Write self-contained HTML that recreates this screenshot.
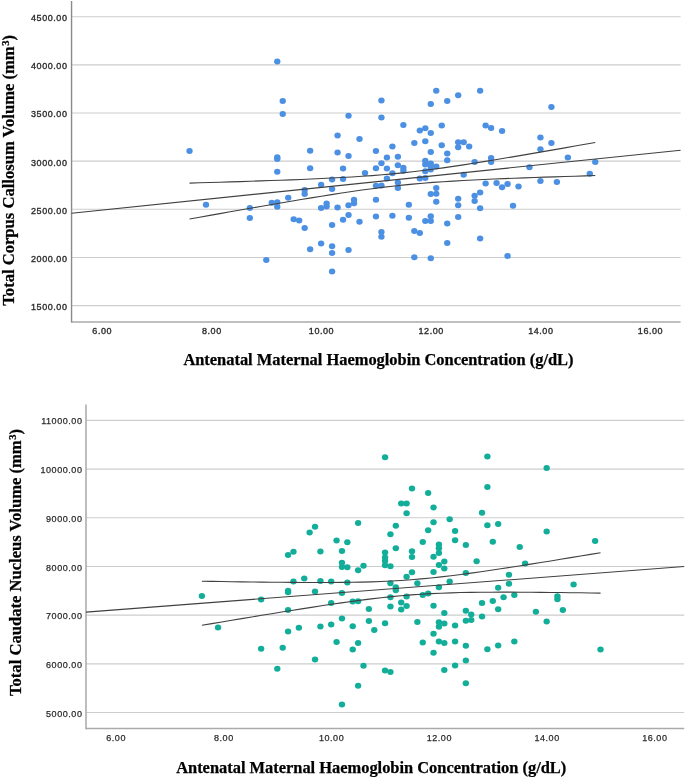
<!DOCTYPE html>
<html><head><meta charset="utf-8"><title>Scatter plots</title><style>html,body{margin:0;padding:0;background:#fff;}body{width:685px;height:777px;overflow:hidden;position:relative;}svg text{white-space:pre}</style></head><body>
<svg width="685" height="777" viewBox="0 0 685 777" style="position:absolute;left:0;top:0;display:block;will-change:transform">
<rect width="685" height="777" fill="#fff"/>
<line x1="71.55" y1="16.7" x2="680.6" y2="16.7" stroke="#cdcdcd" stroke-width="1.1"/>
<line x1="71.55" y1="64.86" x2="680.6" y2="64.86" stroke="#cdcdcd" stroke-width="1.1"/>
<line x1="71.55" y1="113.01" x2="680.6" y2="113.01" stroke="#cdcdcd" stroke-width="1.1"/>
<line x1="71.55" y1="161.16" x2="680.6" y2="161.16" stroke="#cdcdcd" stroke-width="1.1"/>
<line x1="71.55" y1="209.32" x2="680.6" y2="209.32" stroke="#cdcdcd" stroke-width="1.1"/>
<line x1="71.55" y1="257.48" x2="680.6" y2="257.48" stroke="#cdcdcd" stroke-width="1.1"/>
<line x1="71.55" y1="305.63" x2="680.6" y2="305.63" stroke="#cdcdcd" stroke-width="1.1"/>
<path d="M71.55 321.9 H680.6" fill="none" stroke="#aaaaaa" stroke-width="1.5"/>
<path d="M71.55 1 V322.6" fill="none" stroke="#8a8a8a" stroke-width="1.4"/>
<g fill="#4c90e3">
<ellipse cx="189.53" cy="150.9" rx="3.2" ry="3"/>
<ellipse cx="205.98" cy="204.8" rx="3.2" ry="3"/>
<ellipse cx="249.84" cy="208" rx="3.2" ry="3"/>
<ellipse cx="249.84" cy="217.9" rx="3.2" ry="3"/>
<ellipse cx="277.26" cy="61.4" rx="3.2" ry="3"/>
<ellipse cx="282.74" cy="100.9" rx="3.2" ry="3"/>
<ellipse cx="282.74" cy="114.1" rx="3.2" ry="3"/>
<ellipse cx="348.53" cy="115.7" rx="3.2" ry="3"/>
<ellipse cx="337.57" cy="135.4" rx="3.2" ry="3"/>
<ellipse cx="359.5" cy="139.1" rx="3.2" ry="3"/>
<ellipse cx="310.15" cy="150.7" rx="3.2" ry="3"/>
<ellipse cx="337.57" cy="152.4" rx="3.2" ry="3"/>
<ellipse cx="348.53" cy="155.9" rx="3.2" ry="3"/>
<ellipse cx="375.95" cy="151" rx="3.2" ry="3"/>
<ellipse cx="277.26" cy="171.7" rx="3.2" ry="3"/>
<ellipse cx="310.15" cy="168.2" rx="3.2" ry="3"/>
<ellipse cx="343.05" cy="168.5" rx="3.2" ry="3"/>
<ellipse cx="364.98" cy="173.1" rx="3.2" ry="3"/>
<ellipse cx="375.95" cy="168.2" rx="3.2" ry="3"/>
<ellipse cx="332.09" cy="179.6" rx="3.2" ry="3"/>
<ellipse cx="343.05" cy="179.1" rx="3.2" ry="3"/>
<ellipse cx="321.12" cy="184.7" rx="3.2" ry="3"/>
<ellipse cx="332.09" cy="188.9" rx="3.2" ry="3"/>
<ellipse cx="304.67" cy="190.1" rx="3.2" ry="3"/>
<ellipse cx="304.67" cy="194.1" rx="3.2" ry="3"/>
<ellipse cx="288.22" cy="197.8" rx="3.2" ry="3"/>
<ellipse cx="271.77" cy="202.7" rx="3.2" ry="3"/>
<ellipse cx="277.26" cy="202.2" rx="3.2" ry="3"/>
<ellipse cx="277.26" cy="206.7" rx="3.2" ry="3"/>
<ellipse cx="375.95" cy="185.7" rx="3.2" ry="3"/>
<ellipse cx="326.6" cy="203.6" rx="3.2" ry="3"/>
<ellipse cx="326.6" cy="206.6" rx="3.2" ry="3"/>
<ellipse cx="321.12" cy="208.1" rx="3.2" ry="3"/>
<ellipse cx="337.57" cy="207.4" rx="3.2" ry="3"/>
<ellipse cx="348.53" cy="205.3" rx="3.2" ry="3"/>
<ellipse cx="354.02" cy="199.7" rx="3.2" ry="3"/>
<ellipse cx="354.02" cy="203.2" rx="3.2" ry="3"/>
<ellipse cx="375.95" cy="199.7" rx="3.2" ry="3"/>
<ellipse cx="293.7" cy="219.3" rx="3.2" ry="3"/>
<ellipse cx="299.19" cy="220.6" rx="3.2" ry="3"/>
<ellipse cx="304.67" cy="228.1" rx="3.2" ry="3"/>
<ellipse cx="332.09" cy="225.1" rx="3.2" ry="3"/>
<ellipse cx="343.05" cy="219.7" rx="3.2" ry="3"/>
<ellipse cx="348.53" cy="215.1" rx="3.2" ry="3"/>
<ellipse cx="359.5" cy="221.8" rx="3.2" ry="3"/>
<ellipse cx="375.95" cy="216.4" rx="3.2" ry="3"/>
<ellipse cx="321.12" cy="243.6" rx="3.2" ry="3"/>
<ellipse cx="310.15" cy="249.2" rx="3.2" ry="3"/>
<ellipse cx="332.09" cy="246.3" rx="3.2" ry="3"/>
<ellipse cx="332.09" cy="252.9" rx="3.2" ry="3"/>
<ellipse cx="348.53" cy="249.9" rx="3.2" ry="3"/>
<ellipse cx="266.29" cy="259.9" rx="3.2" ry="3"/>
<ellipse cx="332.09" cy="271.5" rx="3.2" ry="3"/>
<ellipse cx="381.43" cy="100.6" rx="3.2" ry="3"/>
<ellipse cx="381.43" cy="117.6" rx="3.2" ry="3"/>
<ellipse cx="436.26" cy="90.8" rx="3.2" ry="3"/>
<ellipse cx="430.78" cy="103.9" rx="3.2" ry="3"/>
<ellipse cx="447.23" cy="101" rx="3.2" ry="3"/>
<ellipse cx="458.19" cy="95.2" rx="3.2" ry="3"/>
<ellipse cx="480.13" cy="90.8" rx="3.2" ry="3"/>
<ellipse cx="403.37" cy="125" rx="3.2" ry="3"/>
<ellipse cx="419.81" cy="130.4" rx="3.2" ry="3"/>
<ellipse cx="425.3" cy="128.3" rx="3.2" ry="3"/>
<ellipse cx="430.78" cy="132.9" rx="3.2" ry="3"/>
<ellipse cx="441.75" cy="125.5" rx="3.2" ry="3"/>
<ellipse cx="414.33" cy="143.1" rx="3.2" ry="3"/>
<ellipse cx="392.4" cy="146.6" rx="3.2" ry="3"/>
<ellipse cx="386.92" cy="157.6" rx="3.2" ry="3"/>
<ellipse cx="397.88" cy="156.7" rx="3.2" ry="3"/>
<ellipse cx="381.43" cy="163.3" rx="3.2" ry="3"/>
<ellipse cx="386.92" cy="168.5" rx="3.2" ry="3"/>
<ellipse cx="397.88" cy="165.3" rx="3.2" ry="3"/>
<ellipse cx="403.37" cy="167.7" rx="3.2" ry="3"/>
<ellipse cx="403.37" cy="170.7" rx="3.2" ry="3"/>
<ellipse cx="392.4" cy="173.2" rx="3.2" ry="3"/>
<ellipse cx="386.92" cy="178.6" rx="3.2" ry="3"/>
<ellipse cx="425.3" cy="141.2" rx="3.2" ry="3"/>
<ellipse cx="441.75" cy="145.3" rx="3.2" ry="3"/>
<ellipse cx="430.78" cy="151.9" rx="3.2" ry="3"/>
<ellipse cx="447.23" cy="153.6" rx="3.2" ry="3"/>
<ellipse cx="447.23" cy="160.2" rx="3.2" ry="3"/>
<ellipse cx="458.19" cy="142.3" rx="3.2" ry="3"/>
<ellipse cx="463.68" cy="142.3" rx="3.2" ry="3"/>
<ellipse cx="458.19" cy="147.3" rx="3.2" ry="3"/>
<ellipse cx="469.16" cy="146.4" rx="3.2" ry="3"/>
<ellipse cx="474.64" cy="162" rx="3.2" ry="3"/>
<ellipse cx="463.68" cy="174.7" rx="3.2" ry="3"/>
<ellipse cx="425.3" cy="160.8" rx="3.2" ry="3"/>
<ellipse cx="425.3" cy="164.6" rx="3.2" ry="3"/>
<ellipse cx="430.78" cy="163.4" rx="3.2" ry="3"/>
<ellipse cx="430.78" cy="166.4" rx="3.2" ry="3"/>
<ellipse cx="436.26" cy="166.4" rx="3.2" ry="3"/>
<ellipse cx="425.3" cy="171.3" rx="3.2" ry="3"/>
<ellipse cx="430.78" cy="169.6" rx="3.2" ry="3"/>
<ellipse cx="419.81" cy="178.6" rx="3.2" ry="3"/>
<ellipse cx="425.3" cy="178" rx="3.2" ry="3"/>
<ellipse cx="381.43" cy="185.5" rx="3.2" ry="3"/>
<ellipse cx="397.88" cy="182.4" rx="3.2" ry="3"/>
<ellipse cx="397.88" cy="188.1" rx="3.2" ry="3"/>
<ellipse cx="408.85" cy="204.8" rx="3.2" ry="3"/>
<ellipse cx="392.4" cy="215.7" rx="3.2" ry="3"/>
<ellipse cx="408.85" cy="217.7" rx="3.2" ry="3"/>
<ellipse cx="436.26" cy="188.1" rx="3.2" ry="3"/>
<ellipse cx="430.78" cy="194.1" rx="3.2" ry="3"/>
<ellipse cx="436.26" cy="193.8" rx="3.2" ry="3"/>
<ellipse cx="436.26" cy="201.7" rx="3.2" ry="3"/>
<ellipse cx="458.19" cy="198.8" rx="3.2" ry="3"/>
<ellipse cx="458.19" cy="205.2" rx="3.2" ry="3"/>
<ellipse cx="474.64" cy="195.8" rx="3.2" ry="3"/>
<ellipse cx="474.64" cy="201.1" rx="3.2" ry="3"/>
<ellipse cx="480.13" cy="192.5" rx="3.2" ry="3"/>
<ellipse cx="480.13" cy="208.3" rx="3.2" ry="3"/>
<ellipse cx="430.78" cy="216.2" rx="3.2" ry="3"/>
<ellipse cx="425.3" cy="221" rx="3.2" ry="3"/>
<ellipse cx="430.78" cy="221" rx="3.2" ry="3"/>
<ellipse cx="447.23" cy="223.6" rx="3.2" ry="3"/>
<ellipse cx="458.19" cy="216.9" rx="3.2" ry="3"/>
<ellipse cx="381.43" cy="231.9" rx="3.2" ry="3"/>
<ellipse cx="381.43" cy="236.8" rx="3.2" ry="3"/>
<ellipse cx="414.33" cy="230.9" rx="3.2" ry="3"/>
<ellipse cx="419.81" cy="233.1" rx="3.2" ry="3"/>
<ellipse cx="447.23" cy="243.1" rx="3.2" ry="3"/>
<ellipse cx="480.13" cy="238.4" rx="3.2" ry="3"/>
<ellipse cx="414.33" cy="257.3" rx="3.2" ry="3"/>
<ellipse cx="430.78" cy="258.2" rx="3.2" ry="3"/>
<ellipse cx="551.41" cy="106.9" rx="3.2" ry="3"/>
<ellipse cx="485.61" cy="125.5" rx="3.2" ry="3"/>
<ellipse cx="491.09" cy="128.1" rx="3.2" ry="3"/>
<ellipse cx="502.06" cy="131.1" rx="3.2" ry="3"/>
<ellipse cx="540.44" cy="137.6" rx="3.2" ry="3"/>
<ellipse cx="491.09" cy="157.9" rx="3.2" ry="3"/>
<ellipse cx="491.09" cy="162" rx="3.2" ry="3"/>
<ellipse cx="529.47" cy="167.2" rx="3.2" ry="3"/>
<ellipse cx="551.41" cy="143.1" rx="3.2" ry="3"/>
<ellipse cx="540.44" cy="149.2" rx="3.2" ry="3"/>
<ellipse cx="567.86" cy="157.4" rx="3.2" ry="3"/>
<ellipse cx="595.27" cy="161.9" rx="3.2" ry="3"/>
<ellipse cx="589.79" cy="173.7" rx="3.2" ry="3"/>
<ellipse cx="540.44" cy="181.1" rx="3.2" ry="3"/>
<ellipse cx="556.89" cy="182" rx="3.2" ry="3"/>
<ellipse cx="485.61" cy="183.4" rx="3.2" ry="3"/>
<ellipse cx="496.58" cy="183.1" rx="3.2" ry="3"/>
<ellipse cx="502.06" cy="187.3" rx="3.2" ry="3"/>
<ellipse cx="507.54" cy="184.1" rx="3.2" ry="3"/>
<ellipse cx="518.51" cy="186.6" rx="3.2" ry="3"/>
<ellipse cx="513.02" cy="205.7" rx="3.2" ry="3"/>
<ellipse cx="507.54" cy="255.9" rx="3.2" ry="3"/>
<ellipse cx="277.26" cy="157.3" rx="3.2" ry="3"/>
<ellipse cx="277.26" cy="159.1" rx="3.2" ry="3"/>
</g>
<g fill="none" stroke="#404040" stroke-width="1.1">
<path d="M71.55,213.27 L680.6,150.18"/>
<path d="M189.53,183.11 L199.67,182.82 L209.82,182.52 L219.96,182.21 L230.1,181.9 L240.25,181.58 L250.39,181.25 L260.53,180.92 L270.68,180.57 L280.82,180.21 L290.96,179.83 L301.11,179.43 L311.25,179.01 L321.39,178.55 L331.54,178.07 L341.68,177.54 L351.82,176.95 L361.97,176.31 L372.11,175.59 L382.26,174.79 L392.4,173.88 L402.54,172.88 L412.69,171.76 L422.83,170.55 L432.97,169.24 L443.12,167.84 L453.26,166.38 L463.4,164.85 L473.55,163.27 L483.69,161.65 L493.83,159.99 L503.98,158.31 L514.12,156.6 L524.27,154.88 L534.41,153.14 L544.55,151.38 L554.7,149.61 L564.84,147.84 L574.98,146.05 L585.13,144.26 L595.27,142.47"/>
<path d="M189.53,218.99 L199.67,217.19 L209.82,215.38 L219.96,213.59 L230.1,211.8 L240.25,210.01 L250.39,208.24 L260.53,206.47 L270.68,204.72 L280.82,202.98 L290.96,201.26 L301.11,199.56 L311.25,197.88 L321.39,196.23 L331.54,194.61 L341.68,193.04 L351.82,191.52 L361.97,190.06 L372.11,188.68 L382.26,187.38 L392.4,186.19 L402.54,185.09 L412.69,184.1 L422.83,183.21 L432.97,182.42 L443.12,181.72 L453.26,181.08 L463.4,180.51 L473.55,179.99 L483.69,179.5 L493.83,179.06 L503.98,178.64 L514.12,178.24 L524.27,177.87 L534.41,177.51 L544.55,177.16 L554.7,176.83 L564.84,176.5 L574.98,176.18 L585.13,175.87 L595.27,175.57"/>
</g>
<g style="font-family:&quot;Liberation Sans&quot;,sans-serif;font-size:9px;letter-spacing:0.56px;stroke:#2b2b2b;stroke-width:0.35px" fill="#2b2b2b" text-anchor="end">
<text x="67.5" y="18.1" dominant-baseline="central">4500.00</text>
<text x="67.5" y="66.26" dominant-baseline="central">4000.00</text>
<text x="67.5" y="114.41" dominant-baseline="central">3500.00</text>
<text x="67.5" y="162.56" dominant-baseline="central">3000.00</text>
<text x="67.5" y="210.72" dominant-baseline="central">2500.00</text>
<text x="67.5" y="258.88" dominant-baseline="central">2000.00</text>
<text x="67.5" y="307.03" dominant-baseline="central">1500.00</text>
</g>
<g style="font-family:&quot;Liberation Sans&quot;,sans-serif;font-size:9px;letter-spacing:0.56px;stroke:#2b2b2b;stroke-width:0.35px" fill="#2b2b2b" text-anchor="middle">
<text x="102.2" y="330.7" dominant-baseline="central">6.00</text>
<text x="211.86" y="330.7" dominant-baseline="central">8.00</text>
<text x="321.52" y="330.7" dominant-baseline="central">10.00</text>
<text x="431.18" y="330.7" dominant-baseline="central">12.00</text>
<text x="540.84" y="330.7" dominant-baseline="central">14.00</text>
<text x="650.5" y="330.7" dominant-baseline="central">16.00</text>
</g>
<text x="183.4" y="365.1" style="font-family:&quot;Liberation Serif&quot;,serif;font-weight:bold;font-size:16.42px;stroke:#000;stroke-width:0.25px" fill="#000">Antenatal Maternal Haemoglobin Concentration (g/dL)</text>
<text transform="translate(13.6,305.7) rotate(-90)" style="font-family:&quot;Liberation Serif&quot;,serif;font-weight:bold;font-size:16.6px;stroke:#000;stroke-width:0.25px" fill="#000">Total Corpus Callosum Volume (mm<tspan font-size="10.5" dy="-4.8" dx="0.6">3</tspan><tspan dy="4.8">)</tspan></text>
<line x1="86" y1="420.4" x2="684.2" y2="420.4" stroke="#cdcdcd" stroke-width="1.1"/>
<line x1="86" y1="469.09" x2="684.2" y2="469.09" stroke="#cdcdcd" stroke-width="1.1"/>
<line x1="86" y1="517.78" x2="684.2" y2="517.78" stroke="#cdcdcd" stroke-width="1.1"/>
<line x1="86" y1="566.47" x2="684.2" y2="566.47" stroke="#cdcdcd" stroke-width="1.1"/>
<line x1="86" y1="615.16" x2="684.2" y2="615.16" stroke="#cdcdcd" stroke-width="1.1"/>
<line x1="86" y1="663.85" x2="684.2" y2="663.85" stroke="#cdcdcd" stroke-width="1.1"/>
<line x1="86" y1="712.54" x2="684.2" y2="712.54" stroke="#cdcdcd" stroke-width="1.1"/>
<path d="M86 728.5 H684.2" fill="none" stroke="#aaaaaa" stroke-width="1.5"/>
<path d="M86 404.4 V729.2" fill="none" stroke="#a2a2a2" stroke-width="1.4"/>
<g fill="#13ae9a">
<ellipse cx="201.89" cy="596.1" rx="3.2" ry="3"/>
<ellipse cx="261.15" cy="599.4" rx="3.2" ry="3"/>
<ellipse cx="218.05" cy="627.5" rx="3.2" ry="3"/>
<ellipse cx="261.15" cy="648.7" rx="3.2" ry="3"/>
<ellipse cx="315.02" cy="526.7" rx="3.2" ry="3"/>
<ellipse cx="358.12" cy="522.9" rx="3.2" ry="3"/>
<ellipse cx="309.63" cy="532.5" rx="3.2" ry="3"/>
<ellipse cx="336.57" cy="540.4" rx="3.2" ry="3"/>
<ellipse cx="347.34" cy="542.2" rx="3.2" ry="3"/>
<ellipse cx="288.08" cy="555" rx="3.2" ry="3"/>
<ellipse cx="293.47" cy="551.8" rx="3.2" ry="3"/>
<ellipse cx="320.41" cy="551.4" rx="3.2" ry="3"/>
<ellipse cx="341.95" cy="551.1" rx="3.2" ry="3"/>
<ellipse cx="341.95" cy="562.7" rx="3.2" ry="3"/>
<ellipse cx="341.95" cy="567" rx="3.2" ry="3"/>
<ellipse cx="347.34" cy="567.2" rx="3.2" ry="3"/>
<ellipse cx="358.12" cy="570.2" rx="3.2" ry="3"/>
<ellipse cx="363.5" cy="565.8" rx="3.2" ry="3"/>
<ellipse cx="304.25" cy="578.4" rx="3.2" ry="3"/>
<ellipse cx="293.47" cy="581.6" rx="3.2" ry="3"/>
<ellipse cx="320.41" cy="581" rx="3.2" ry="3"/>
<ellipse cx="331.18" cy="581.6" rx="3.2" ry="3"/>
<ellipse cx="347.34" cy="582.4" rx="3.2" ry="3"/>
<ellipse cx="315.02" cy="591.6" rx="3.2" ry="3"/>
<ellipse cx="341.95" cy="593" rx="3.2" ry="3"/>
<ellipse cx="331.18" cy="603" rx="3.2" ry="3"/>
<ellipse cx="352.73" cy="601.4" rx="3.2" ry="3"/>
<ellipse cx="358.12" cy="601.2" rx="3.2" ry="3"/>
<ellipse cx="368.89" cy="609.1" rx="3.2" ry="3"/>
<ellipse cx="288.08" cy="610" rx="3.2" ry="3"/>
<ellipse cx="341.95" cy="618.4" rx="3.2" ry="3"/>
<ellipse cx="331.18" cy="624.5" rx="3.2" ry="3"/>
<ellipse cx="320.41" cy="626.6" rx="3.2" ry="3"/>
<ellipse cx="298.86" cy="627.7" rx="3.2" ry="3"/>
<ellipse cx="288.08" cy="631.5" rx="3.2" ry="3"/>
<ellipse cx="352.73" cy="626.3" rx="3.2" ry="3"/>
<ellipse cx="368.89" cy="621" rx="3.2" ry="3"/>
<ellipse cx="374.28" cy="630.1" rx="3.2" ry="3"/>
<ellipse cx="336.57" cy="642" rx="3.2" ry="3"/>
<ellipse cx="358.12" cy="642.9" rx="3.2" ry="3"/>
<ellipse cx="352.73" cy="649.4" rx="3.2" ry="3"/>
<ellipse cx="282.7" cy="647.7" rx="3.2" ry="3"/>
<ellipse cx="315.02" cy="659.6" rx="3.2" ry="3"/>
<ellipse cx="277.31" cy="668.7" rx="3.2" ry="3"/>
<ellipse cx="363.5" cy="665.7" rx="3.2" ry="3"/>
<ellipse cx="358.12" cy="685.8" rx="3.2" ry="3"/>
<ellipse cx="341.95" cy="704.6" rx="3.2" ry="3"/>
<ellipse cx="385.05" cy="457.2" rx="3.2" ry="3"/>
<ellipse cx="411.98" cy="488.5" rx="3.2" ry="3"/>
<ellipse cx="428.15" cy="492.9" rx="3.2" ry="3"/>
<ellipse cx="401.21" cy="503.6" rx="3.2" ry="3"/>
<ellipse cx="406.6" cy="503.6" rx="3.2" ry="3"/>
<ellipse cx="406.6" cy="513.2" rx="3.2" ry="3"/>
<ellipse cx="433.53" cy="507.4" rx="3.2" ry="3"/>
<ellipse cx="449.69" cy="519.2" rx="3.2" ry="3"/>
<ellipse cx="395.82" cy="525.8" rx="3.2" ry="3"/>
<ellipse cx="390.44" cy="534.3" rx="3.2" ry="3"/>
<ellipse cx="433.53" cy="522.3" rx="3.2" ry="3"/>
<ellipse cx="428.15" cy="530.2" rx="3.2" ry="3"/>
<ellipse cx="455.08" cy="531.1" rx="3.2" ry="3"/>
<ellipse cx="482.02" cy="512.7" rx="3.2" ry="3"/>
<ellipse cx="422.76" cy="542.1" rx="3.2" ry="3"/>
<ellipse cx="395.82" cy="548.2" rx="3.2" ry="3"/>
<ellipse cx="385.05" cy="552.6" rx="3.2" ry="3"/>
<ellipse cx="385.05" cy="557.4" rx="3.2" ry="3"/>
<ellipse cx="385.05" cy="560.9" rx="3.2" ry="3"/>
<ellipse cx="385.05" cy="565.3" rx="3.2" ry="3"/>
<ellipse cx="390.44" cy="566.2" rx="3.2" ry="3"/>
<ellipse cx="411.98" cy="551.3" rx="3.2" ry="3"/>
<ellipse cx="411.98" cy="557" rx="3.2" ry="3"/>
<ellipse cx="411.98" cy="572.3" rx="3.2" ry="3"/>
<ellipse cx="406.6" cy="576.7" rx="3.2" ry="3"/>
<ellipse cx="390.44" cy="583.2" rx="3.2" ry="3"/>
<ellipse cx="417.37" cy="583.2" rx="3.2" ry="3"/>
<ellipse cx="455.08" cy="540.2" rx="3.2" ry="3"/>
<ellipse cx="465.85" cy="545.1" rx="3.2" ry="3"/>
<ellipse cx="438.92" cy="544.4" rx="3.2" ry="3"/>
<ellipse cx="438.92" cy="548.2" rx="3.2" ry="3"/>
<ellipse cx="438.92" cy="553" rx="3.2" ry="3"/>
<ellipse cx="433.53" cy="556.7" rx="3.2" ry="3"/>
<ellipse cx="444.31" cy="561.6" rx="3.2" ry="3"/>
<ellipse cx="438.92" cy="565.1" rx="3.2" ry="3"/>
<ellipse cx="444.31" cy="568.4" rx="3.2" ry="3"/>
<ellipse cx="433.53" cy="571.9" rx="3.2" ry="3"/>
<ellipse cx="465.85" cy="573" rx="3.2" ry="3"/>
<ellipse cx="476.63" cy="561.2" rx="3.2" ry="3"/>
<ellipse cx="449.69" cy="581.5" rx="3.2" ry="3"/>
<ellipse cx="395.82" cy="587.3" rx="3.2" ry="3"/>
<ellipse cx="395.82" cy="590.3" rx="3.2" ry="3"/>
<ellipse cx="390.44" cy="597.3" rx="3.2" ry="3"/>
<ellipse cx="406.6" cy="596.5" rx="3.2" ry="3"/>
<ellipse cx="422.76" cy="595.1" rx="3.2" ry="3"/>
<ellipse cx="401.21" cy="602.6" rx="3.2" ry="3"/>
<ellipse cx="406.6" cy="606.1" rx="3.2" ry="3"/>
<ellipse cx="390.44" cy="606.5" rx="3.2" ry="3"/>
<ellipse cx="401.21" cy="609.6" rx="3.2" ry="3"/>
<ellipse cx="385.05" cy="623.3" rx="3.2" ry="3"/>
<ellipse cx="417.37" cy="621.9" rx="3.2" ry="3"/>
<ellipse cx="438.92" cy="587.3" rx="3.2" ry="3"/>
<ellipse cx="428.15" cy="593.4" rx="3.2" ry="3"/>
<ellipse cx="433.53" cy="605.8" rx="3.2" ry="3"/>
<ellipse cx="444.31" cy="612.9" rx="3.2" ry="3"/>
<ellipse cx="465.85" cy="610.7" rx="3.2" ry="3"/>
<ellipse cx="471.24" cy="614.4" rx="3.2" ry="3"/>
<ellipse cx="465.85" cy="620.7" rx="3.2" ry="3"/>
<ellipse cx="471.24" cy="620.1" rx="3.2" ry="3"/>
<ellipse cx="438.92" cy="622.3" rx="3.2" ry="3"/>
<ellipse cx="438.92" cy="626.7" rx="3.2" ry="3"/>
<ellipse cx="444.31" cy="623.6" rx="3.2" ry="3"/>
<ellipse cx="455.08" cy="625.4" rx="3.2" ry="3"/>
<ellipse cx="433.53" cy="633.7" rx="3.2" ry="3"/>
<ellipse cx="422.76" cy="642.5" rx="3.2" ry="3"/>
<ellipse cx="438.92" cy="641.6" rx="3.2" ry="3"/>
<ellipse cx="444.31" cy="642.9" rx="3.2" ry="3"/>
<ellipse cx="455.08" cy="641.6" rx="3.2" ry="3"/>
<ellipse cx="465.85" cy="645.7" rx="3.2" ry="3"/>
<ellipse cx="433.53" cy="652.7" rx="3.2" ry="3"/>
<ellipse cx="465.85" cy="660.6" rx="3.2" ry="3"/>
<ellipse cx="455.08" cy="665.6" rx="3.2" ry="3"/>
<ellipse cx="444.31" cy="670" rx="3.2" ry="3"/>
<ellipse cx="385.05" cy="670.5" rx="3.2" ry="3"/>
<ellipse cx="390.44" cy="672" rx="3.2" ry="3"/>
<ellipse cx="465.85" cy="683.2" rx="3.2" ry="3"/>
<ellipse cx="487.4" cy="456.6" rx="3.2" ry="3"/>
<ellipse cx="546.66" cy="468" rx="3.2" ry="3"/>
<ellipse cx="487.4" cy="487" rx="3.2" ry="3"/>
<ellipse cx="487.4" cy="525.3" rx="3.2" ry="3"/>
<ellipse cx="498.18" cy="524.1" rx="3.2" ry="3"/>
<ellipse cx="546.66" cy="531.5" rx="3.2" ry="3"/>
<ellipse cx="492.79" cy="541.8" rx="3.2" ry="3"/>
<ellipse cx="519.73" cy="546.9" rx="3.2" ry="3"/>
<ellipse cx="525.11" cy="563.5" rx="3.2" ry="3"/>
<ellipse cx="508.95" cy="574.8" rx="3.2" ry="3"/>
<ellipse cx="508.95" cy="583.7" rx="3.2" ry="3"/>
<ellipse cx="595.14" cy="541.1" rx="3.2" ry="3"/>
<ellipse cx="498.18" cy="587.7" rx="3.2" ry="3"/>
<ellipse cx="514.34" cy="595.1" rx="3.2" ry="3"/>
<ellipse cx="503.56" cy="597.3" rx="3.2" ry="3"/>
<ellipse cx="492.79" cy="601.1" rx="3.2" ry="3"/>
<ellipse cx="482.02" cy="603" rx="3.2" ry="3"/>
<ellipse cx="498.18" cy="609.2" rx="3.2" ry="3"/>
<ellipse cx="482.02" cy="616.6" rx="3.2" ry="3"/>
<ellipse cx="573.6" cy="584.6" rx="3.2" ry="3"/>
<ellipse cx="557.43" cy="596.3" rx="3.2" ry="3"/>
<ellipse cx="557.43" cy="599.2" rx="3.2" ry="3"/>
<ellipse cx="535.89" cy="611.7" rx="3.2" ry="3"/>
<ellipse cx="562.82" cy="610" rx="3.2" ry="3"/>
<ellipse cx="546.66" cy="621.4" rx="3.2" ry="3"/>
<ellipse cx="487.4" cy="649.2" rx="3.2" ry="3"/>
<ellipse cx="498.18" cy="645.5" rx="3.2" ry="3"/>
<ellipse cx="514.34" cy="641.5" rx="3.2" ry="3"/>
<ellipse cx="600.53" cy="649.6" rx="3.2" ry="3"/>
<ellipse cx="288.08" cy="590.7" rx="3.2" ry="3"/>
<ellipse cx="288.08" cy="592.3" rx="3.2" ry="3"/>
</g>
<g fill="none" stroke="#404040" stroke-width="1.1">
<path d="M86,612.1 L684.2,566.52"/>
<path d="M201.89,581.23 L211.86,581.4 L221.82,581.55 L231.79,581.7 L241.76,581.85 L251.72,581.98 L261.69,582.11 L271.65,582.22 L281.62,582.32 L291.59,582.4 L301.55,582.46 L311.52,582.49 L321.48,582.5 L331.45,582.47 L341.42,582.4 L351.38,582.28 L361.35,582.09 L371.31,581.83 L381.28,581.47 L391.25,581.02 L401.21,580.45 L411.18,579.75 L421.14,578.92 L431.11,577.97 L441.07,576.91 L451.04,575.74 L461.01,574.48 L470.97,573.15 L480.94,571.75 L490.9,570.3 L500.87,568.81 L510.84,567.28 L520.8,565.73 L530.77,564.15 L540.73,562.55 L550.7,560.93 L560.67,559.3 L570.63,557.66 L580.6,556 L590.56,554.34 L600.53,552.67"/>
<path d="M201.89,625.31 L211.86,623.62 L221.82,621.95 L231.79,620.28 L241.76,618.61 L251.72,616.96 L261.69,615.32 L271.65,613.69 L281.62,612.07 L291.59,610.47 L301.55,608.89 L311.52,607.34 L321.48,605.81 L331.45,604.32 L341.42,602.88 L351.38,601.48 L361.35,600.15 L371.31,598.89 L381.28,597.73 L391.25,596.66 L401.21,595.72 L411.18,594.89 L421.14,594.2 L431.11,593.63 L441.07,593.18 L451.04,592.83 L461.01,592.57 L470.97,592.38 L480.94,592.26 L490.9,592.19 L500.87,592.17 L510.84,592.17 L520.8,592.21 L530.77,592.27 L540.73,592.35 L550.7,592.45 L560.67,592.56 L570.63,592.69 L580.6,592.82 L590.56,592.97 L600.53,593.12"/>
</g>
<g style="font-family:&quot;Liberation Sans&quot;,sans-serif;font-size:9px;letter-spacing:0.56px;stroke:#2b2b2b;stroke-width:0.25px" fill="#2b2b2b" text-anchor="end">
<text x="82.5" y="421.45" dominant-baseline="central">11000.00</text>
<text x="82.5" y="470.14" dominant-baseline="central">10000.00</text>
<text x="82.5" y="518.83" dominant-baseline="central">9000.00</text>
<text x="82.5" y="567.52" dominant-baseline="central">8000.00</text>
<text x="82.5" y="616.21" dominant-baseline="central">7000.00</text>
<text x="82.5" y="664.9" dominant-baseline="central">6000.00</text>
<text x="82.5" y="713.59" dominant-baseline="central">5000.00</text>
</g>
<g style="font-family:&quot;Liberation Sans&quot;,sans-serif;font-size:9px;letter-spacing:0.56px;stroke:#2b2b2b;stroke-width:0.25px" fill="#2b2b2b" text-anchor="middle">
<text x="116.1" y="737.8" dominant-baseline="central">6.00</text>
<text x="223.84" y="737.8" dominant-baseline="central">8.00</text>
<text x="331.58" y="737.8" dominant-baseline="central">10.00</text>
<text x="439.32" y="737.8" dominant-baseline="central">12.00</text>
<text x="547.06" y="737.8" dominant-baseline="central">14.00</text>
<text x="654.8" y="737.8" dominant-baseline="central">16.00</text>
</g>
<text x="176.2" y="772.6" style="font-family:&quot;Liberation Serif&quot;,serif;font-weight:bold;font-size:16.42px;stroke:#000;stroke-width:0.25px" fill="#000">Antenatal Maternal Haemoglobin Concentration (g/dL)</text>
<text transform="translate(20.6,696) rotate(-90)" style="font-family:&quot;Liberation Serif&quot;,serif;font-weight:bold;font-size:16.6px;stroke:#000;stroke-width:0.25px" fill="#000">Total Caudate Nucleus Volume (mm<tspan font-size="10.5" dy="-4.8" dx="0.6">3</tspan><tspan dy="4.8">)</tspan></text>
</svg></body></html>
